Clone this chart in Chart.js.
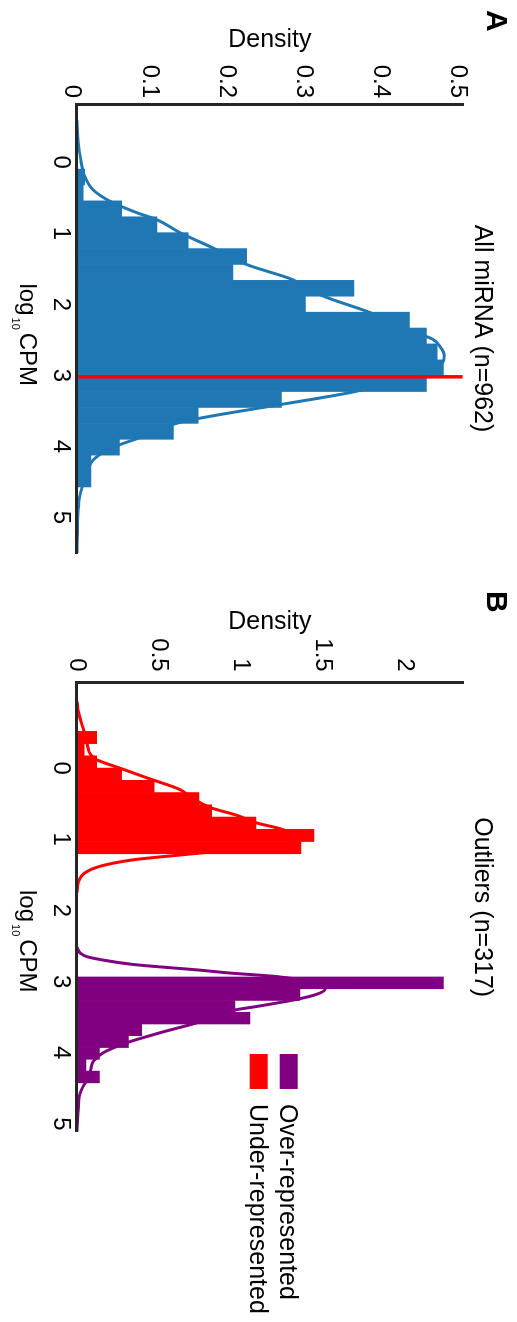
<!DOCTYPE html>
<html>
<head>
<meta charset="utf-8">
<title>miRNA log10 CPM density</title>
<script src="https://cdn.jsdelivr.net/npm/chart.js@4.4.1/dist/chart.umd.min.js"></script>
<style>
  html, body { margin: 0; padding: 0; overflow: hidden; background: #fff; }
  /* the figure is laid out landscape and turned a quarter clockwise */
  #figure {
    position: absolute; left: 0; top: 0;
    width: 1322px; height: 517px;
    transform-origin: 0 0;
    transform: translate(517px, 0) rotate(90deg);
  }
  #panelA, #panelB { position: absolute; top: 0; }
  #panelA { left: 0; }
  #panelB { left: 575px; }
</style>
</head>
<body>
<div id="figure">
  <canvas id="panelA" width="575" height="517"></canvas>
  <canvas id="panelB" width="747" height="517"></canvas>
</div>
<script>
const FONT = "'Liberation Sans', Arial, Helvetica, sans-serif";
Chart.defaults.font.family = FONT;
Chart.defaults.color = '#000';

// axis ticks
const logTicks = [0, 1, 2, 3, 4, 5];
const densityTicksA = [0, 0.1, 0.2, 0.3, 0.4, 0.5];
const densityTicksB = [0, 0.5, 1, 1.5, 2];
const xTitleParts = ['log', '10', 'CPM'];

// A: all miRNA - histogram bins (centres) and density
const binsAll = [0.208, 0.432, 0.655, 0.879, 1.103, 1.327, 1.550, 1.774, 1.998, 2.222,
                 2.445, 2.669, 2.893, 3.116, 3.340, 3.564, 3.788, 4.011, 4.235, 4.459];
const densityAll = [0.010, 0.008, 0.058, 0.1035, 0.144, 0.220, 0.202, 0.359, 0.296, 0.431,
                    0.453, 0.467, 0.475, 0.453, 0.265, 0.157, 0.125, 0.055, 0.018, 0.018];
// fitted density curve
const fitAllX = [-0.59, -0.27, -0.03, 0.20, 0.39, 0.55, 0.71, 0.81, 1.00, 1.20, 1.44, 1.65, 1.87,
                 2.10, 2.25, 2.42, 2.49, 2.60, 2.72, 2.82, 2.91, 2.99, 3.05, 3.15, 3.24, 3.41,
                 3.56, 3.66, 3.87, 4.03, 4.19, 4.36, 4.54, 4.73, 4.87, 5.20, 5.50];
const fitAllY = [0, 0.0017, 0.005, 0.010, 0.021, 0.043, 0.0775, 0.1035, 0.135, 0.175, 0.220, 0.279, 0.316,
                 0.376, 0.410, 0.445, 0.461, 0.471, 0.476, 0.474, 0.465, 0.450, 0.424, 0.390, 0.355, 0.264,
                 0.181, 0.134, 0.083, 0.043, 0.021, 0.0126, 0.0074, 0.003, 0.0017, 0.0005, 0];
const medianAll = 3.02;

// B: outliers - under-represented (red) and over-represented (purple)
const binsUnder = [-0.430, -0.258, -0.086, 0.086, 0.258, 0.430, 0.602, 0.774, 0.946, 1.118];
const densityUnder = [0.120, 0.043, 0.120, 0.272, 0.470, 0.744, 0.821, 1.091, 1.445, 1.366];
const fitUnderX = [-0.935, -0.80, -0.65, -0.45, -0.30, -0.20, -0.117, 0.00, 0.14, 0.305, 0.42, 0.56,
                   0.66, 0.77, 0.86, 0.95, 1.03, 1.10, 1.19, 1.25, 1.29, 1.38, 1.47, 1.62, 1.75];
const fitUnderY = [0, 0.008, 0.025, 0.052, 0.066, 0.080, 0.120, 0.260, 0.430, 0.630, 0.700, 0.820,
                   0.970, 1.095, 1.250, 1.330, 1.320, 1.150, 0.770, 0.500, 0.340, 0.140, 0.050, 0.006, 0];

const binsOver = [3.018, 3.183, 3.348, 3.514, 3.679, 3.845, 4.010, 4.176, 4.341];
const densityOver = [2.234, 1.360, 0.963, 1.055, 0.394, 0.313, 0.136, 0.055, 0.136];
const fitOverX = [2.52, 2.60, 2.65, 2.69, 2.76, 2.84, 2.88, 2.93, 3.00, 3.07, 3.11, 3.18, 3.25, 3.35,
                  3.40, 3.49, 3.58, 3.72, 3.86, 4.00, 4.12, 4.24, 4.35, 4.47, 4.61, 4.80, 5.00, 5.11];
const fitOverY = [0, 0.020, 0.060, 0.140, 0.343, 0.750, 0.930, 1.218, 1.420, 1.510, 1.512, 1.460, 1.340, 1.096,
                  0.963, 0.850, 0.730, 0.506, 0.303, 0.160, 0.100, 0.083, 0.069, 0.038, 0.014, 0.008, 0.002, 0];

const BLUE = '#1f77b4', RED = '#ff0000', PURPLE = '#800080', AXIS = '#262626';

function pts(xs, ys) {
  return xs.map((x, i) => ({ x: x, y: ys[i] }));
}

// panel letter, subscripted x title and the legend
const decor = {
  id: 'decor',
  afterDraw(chart, args, o) {
    const ctx = chart.ctx;
    ctx.save();
    ctx.fillStyle = '#000';
    ctx.textAlign = 'left';
    ctx.textBaseline = 'alphabetic';
    ctx.font = 'bold 30px ' + FONT;
    ctx.fillText(o.letter, o.letterX, o.letterY);

    let x = o.xTitleX;
    ctx.font = '24px ' + FONT;
    ctx.fillText(xTitleParts[0], x, o.xTitleY);
    x += ctx.measureText(xTitleParts[0]).width + 2;
    ctx.font = '11px ' + FONT;
    ctx.fillText(xTitleParts[1], x, o.xTitleY + 8);
    x += ctx.measureText(xTitleParts[1]).width + 3;
    ctx.font = '24px ' + FONT;
    ctx.fillText(xTitleParts[2], x, o.xTitleY);

    if (o.legend) {
      ctx.font = '25px ' + FONT;
      o.legend.forEach((label, i) => {
        const ds = chart.data.datasets.find(d => d.label === label);
        const top = o.legendY + i * 30;
        ctx.fillStyle = ds.backgroundColor;
        ctx.fillRect(o.legendX, top, 35, 18);
        ctx.fillStyle = '#000';
        ctx.fillText(label, o.legendX + 50, top + 18);
      });
    }
    ctx.restore();
  }
};

function logAxis(min, max, shown) {
  return {
    type: 'linear', position: 'bottom', min: min, max: max, offset: false, display: shown,
    afterBuildTicks: s => { s.ticks = logTicks.map(v => ({ value: v })); },
    afterFit: s => { if (shown) s.height = 77; },
    grid: { display: false, drawTicks: false },
    border: { display: true, color: AXIS, width: 3, z: 1 },
    ticks: { font: { size: 24 }, padding: 2, maxRotation: 0, autoSkip: false, callback: v => String(v) }
  };
}

function densityAxis(max, ticks, width, pad, labelOffset, titlePad) {
  return {
    type: 'linear', position: 'left', min: 0, max: max,
    afterBuildTicks: s => { s.ticks = ticks.map(v => ({ value: v })); },
    afterFit: s => { s.width = width; },
    grid: { display: false, drawTicks: false },
    border: { display: true, color: AXIS, width: 3, z: 1 },
    ticks: { font: { size: 24 }, padding: pad, labelOffset: labelOffset, callback: v => String(v) },
    title: { display: true, text: 'Density', font: { size: 25 }, padding: { top: titlePad, bottom: 0 } }
  };
}

function titleOpts(text) {
  return {
    display: true, text: text, fullSize: false, color: '#000',
    font: { size: 25, weight: 'normal' }, padding: { top: 20, bottom: 4.3 }
  };
}

const barStyle = { borderWidth: 0, barPercentage: 1, categoryPercentage: 1, grouped: false };
const curveStyle = { pointRadius: 0, borderWidth: 3, fill: false, cubicInterpolationMode: 'monotone' };

new Chart(document.getElementById('panelA'), {
  type: 'bar',
  plugins: [decor],
  data: {
    datasets: [
      { type: 'line', label: 'median', data: pts([medianAll, medianAll], [0, 0.5]),
        borderColor: RED, borderWidth: 3.5, pointRadius: 0, tension: 0, order: 0 },
      Object.assign({ type: 'line', label: 'fit', data: pts(fitAllX, fitAllY), borderColor: BLUE, order: 1 }, curveStyle),
      Object.assign({ type: 'bar', label: 'All miRNA', data: pts(binsAll, densityAll), backgroundColor: BLUE, order: 2 }, barStyle)
    ]
  },
  options: {
    responsive: false,
    animation: false,
    events: [],
    layout: { padding: { left: 0, right: 22, top: 0, bottom: 0 } },
    scales: {
      x: logAxis(-0.82, 5.5, true),
      y: densityAxis(0.5, densityTicksA, 104, 6, 5, 25.6)
    },
    plugins: {
      legend: { display: false },
      tooltip: { enabled: false },
      title: titleOpts('All miRNA (n=962)'),
      decor: { letter: 'A', letterX: 10, letterY: 30.3, xTitleX: 283.5, xTitleY: 497 }
    }
  }
});

new Chart(document.getElementById('panelB'), {
  type: 'bar',
  plugins: [decor],
  data: {
    datasets: [
      Object.assign({ type: 'line', label: 'fit over', xAxisID: 'x2', data: pts(fitOverX, fitOverY), borderColor: PURPLE, order: 0 }, curveStyle),
      Object.assign({ type: 'line', label: 'fit under', xAxisID: 'x', data: pts(fitUnderX, fitUnderY), borderColor: RED, order: 1 }, curveStyle),
      Object.assign({ type: 'bar', label: 'Over-represented', xAxisID: 'x2', data: pts(binsOver, densityOver), backgroundColor: PURPLE, order: 2 }, barStyle),
      Object.assign({ type: 'bar', label: 'Under-represented', xAxisID: 'x', data: pts(binsUnder, densityUnder), backgroundColor: RED, order: 3 }, barStyle)
    ]
  },
  options: {
    responsive: false,
    animation: false,
    events: [],
    layout: { padding: { left: 0, right: 190.3, top: 0, bottom: 0 } },
    scales: {
      x: logAxis(-1.2, 5.11, true),
      x2: logAxis(-1.2, 5.11, false),
      y: densityAxis(2.352, densityTicksB, 107.7, 11, 0, 32)
    },
    plugins: {
      legend: { display: false },
      tooltip: { enabled: false },
      title: titleOpts('Outliers (n=317)'),
      decor: { letter: 'B', letterX: 16, letterY: 30.3, xTitleX: 315, xTitleY: 497,
               legend: ['Over-represented', 'Under-represented'], legendX: 479, legendY: 219.3 }
    }
  }
});
</script>
</body>
</html>
